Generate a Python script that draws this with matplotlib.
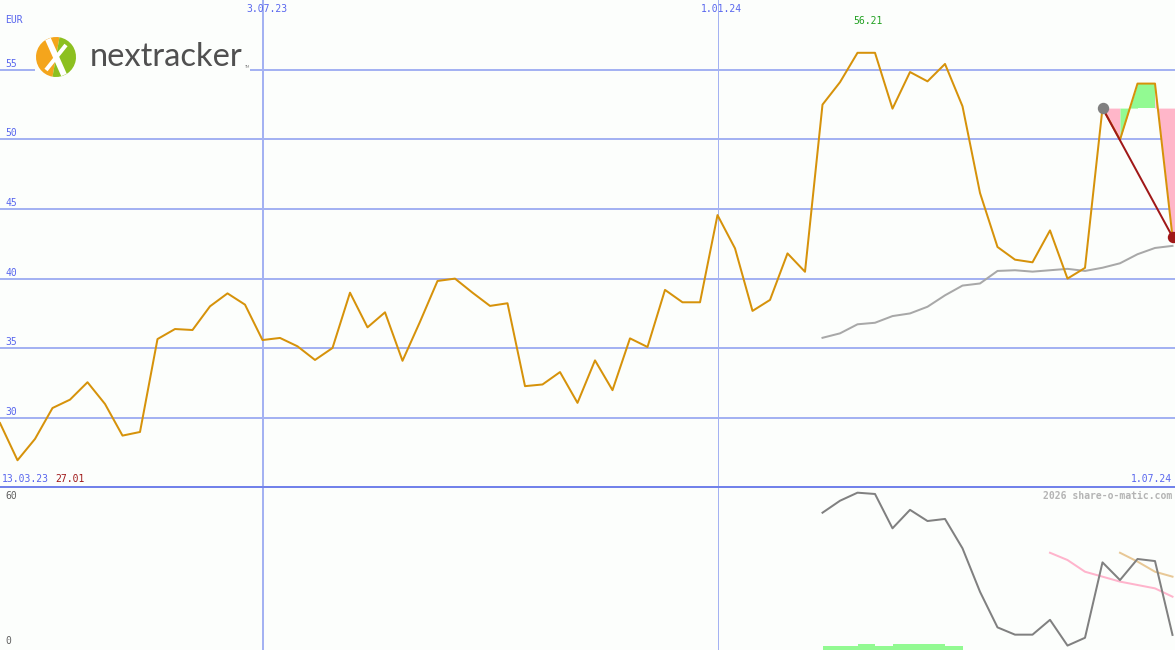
import matplotlib
matplotlib.use('Agg')
import matplotlib.pyplot as plt
from matplotlib.patches import Wedge, Rectangle

# weekly closes (EUR), 20.03.23 .. 1.07.24
price = [29.63, 26.96, 28.49, 30.71, 31.31, 32.56, 31.00, 28.73, 28.99, 35.66,
         36.38, 36.31, 38.01, 38.94, 38.13, 35.59, 35.74, 35.14, 34.16, 35.02,
         38.99, 36.50, 37.58, 34.10, 36.90, 39.83, 40.00, 38.99, 38.04, 38.23,
         32.28, 32.40, 33.29, 31.08, 34.13, 31.99, 35.71, 35.09, 39.19, 38.30,
         38.30, 44.56, 42.17, 37.68, 38.47, 41.81, 40.49, 52.49, 54.10, 56.21,
         56.21, 52.20, 54.83, 54.16, 55.41, 52.37, 46.15, 42.27, 41.36, 41.17,
         43.46, 40.00, 40.77, 52.24, 49.97, 54.00, 54.00, 43.00]

# moving average, starts at week 47
ma_start = 47
ma = [35.75, 36.07, 36.72, 36.83, 37.31, 37.50, 37.98, 38.80, 39.50, 39.65,
      40.55, 40.60, 40.50, 40.60, 40.70, 40.55, 40.78, 41.10, 41.75, 42.20, 42.35]

# lower panel indicator
osc = [52.4, 57.0, 60.1, 59.6, 46.4, 53.5, 49.2, 50.0, 38.7, 22.0,
       8.3, 5.5, 5.5, 11.2, 1.3, 4.3, 33.3, 26.5, 34.6, 33.8, 5.4]
pink_start = 60
pink_line = [37.0, 34.2, 29.7, 27.8, 25.9, 24.6, 23.3, 20.1]
tan_start = 64
tan_line = [37.0, 33.6, 29.7, 27.8]
bars_start = 47
bar_vals = [1, 1, 2, 1, 2, 2, 2, 1]

ref_idx = 63  # start of the trend arrow
y_ticks = [30, 35, 40, 45, 50, 55]
x_tick_idx = [15, 41]
x_tick_labels = ['3.07.23', '1.01.24']
first_label = '13.03.23'
last_label = '1.07.24'
low_label = '27.01'
high_label = '56.21'

W, H = 1175, 650
bg = '#fcfefc'
grid_c = '#a4b2f2'
blue_txt = '#5866ee'
px = 0.72  # one pixel in points at dpi 100

fig = plt.figure(figsize=(W / 100, H / 100), dpi=100, facecolor=bg)
mono = 'DejaVu Sans Mono'
fs = 7

def fy(y):
    return 1 - y / H

xmax = W / 17.5

# main price panel
ax = fig.add_axes([0, fy(487), 1, 487 / H], facecolor=bg)
ax.set_xlim(0, xmax)
ax.set_ylim(25.04, 60.0)
ax.axis('off')
for v in y_ticks:
    ax.axhline(v, color=grid_c, lw=2 * px, zorder=1)
for i, xi in enumerate(x_tick_idx):
    ax.axvline(xi, color=grid_c, lw=(2 if i == 0 else 1) * px, zorder=1)

x = list(range(len(price)))
ref = price[ref_idx]
for i in range(ref_idx, len(price) - 1):
    col = '#ffb6c9' if price[i + 1] < price[i] else '#92fa92'
    x1 = xmax if i + 1 == len(price) - 1 else i + 1
    ax.fill_between([i, i + 1, x1], [price[i], price[i + 1], price[i + 1]], ref,
                    color=col, lw=0, zorder=2)

ax.plot(range(ma_start, ma_start + len(ma)), ma, color='#a8a8a8', lw=2 * px, zorder=3)
ax.plot(x, price, color='#d6920a', lw=2 * px, zorder=4)
ax.plot([ref_idx, len(price) - 1], [ref, price[-1]], color='#a01818', lw=2 * px, zorder=5)
ax.plot(ref_idx, ref, 'o', color='#808080', ms=10 * px, zorder=6)
ax.plot(len(price) - 1, price[-1], 'o', color='#a01818', ms=10 * px, zorder=6)

# lower indicator panel
ax2 = fig.add_axes([0, 0, 1, 162 / H], facecolor=bg)
ax2.set_xlim(0, xmax)
ax2.set_ylim(-0.4, 61.9)
ax2.axis('off')
for i, xi in enumerate(x_tick_idx):
    ax2.axvline(xi, color=grid_c, lw=(2 if i == 0 else 1) * px, zorder=1)
ax2.bar(range(bars_start, bars_start + len(bar_vals)), [b + 0.4 for b in bar_vals],
        bottom=-0.4, width=1, align='edge', color='#92fa92', lw=0, zorder=2)
ax2.plot(range(pink_start, pink_start + len(pink_line)), pink_line, color='#ffb4cc', lw=2 * px, zorder=3)
ax2.plot(range(tan_start, tan_start + len(tan_line)), tan_line, color='#e8c896', lw=2 * px, zorder=3)
ax2.plot(range(ma_start, ma_start + len(osc)), osc, color='#808080', lw=2 * px, zorder=4)

# separator
fig.add_artist(plt.Line2D([0, 1], [fy(487), fy(487)], color='#7282ea', lw=2 * px))

# texts
fig.text(5 / W, fy(20), 'EUR', color=blue_txt, fontsize=fs, family=mono, va='center')
for v in y_ticks:
    ypix = (60.0 - v) * 487 / (60.0 - 25.04) - 6
    fig.text(5 / W, fy(ypix), str(v), color=blue_txt, fontsize=fs, family=mono, va='center')
for xi, lab in zip(x_tick_idx, x_tick_labels):
    fig.text((xi * 17.5 + 4) / W, fy(9), lab, color=blue_txt, fontsize=fs, family=mono,
             va='center', ha='center')
hi = price.index(max(price))
fig.text((hi * 17.5 + 10) / W, fy(21), high_label, color='#20a020', fontsize=fs, family=mono,
         va='center', ha='center')
fig.text(2 / W, fy(479), first_label, color=blue_txt, fontsize=fs, family=mono, va='center')
fig.text(55 / W, fy(479), low_label, color='#a01818', fontsize=fs, family=mono, va='center')
fig.text(1172 / W, fy(479), last_label, color=blue_txt, fontsize=fs, family=mono, va='center', ha='right')
fig.text(1172 / W, fy(496), '2026 share-o-matic.com', color='#b4b4b4', fontsize=fs, family=mono,
         va='center', ha='right', fontweight='bold')
fig.text(5 / W, fy(496), '60', color='#606060', fontsize=fs, family=mono, va='center')
fig.text(5 / W, fy(641), '0', color='#606060', fontsize=fs, family=mono, va='center')

# logo
lax = fig.add_axes([0, 0, 1, 1], facecolor='none')
lax.set_xlim(0, W)
lax.set_ylim(H, 0)
lax.axis('off')
lax.add_patch(Rectangle((35, 35), 215, 46, color=bg, lw=0))
lax.add_patch(Wedge((56, 57), 20, 100, 280, color='#f4a51c', lw=0))
lax.add_patch(Wedge((56, 57), 20, 280, 460, color='#8cc020', lw=0))
lax.plot([48, 64], [39, 75], color='white', lw=6 * px, solid_capstyle='butt')
lax.plot([66, 46], [45, 70], color='white', lw=4 * px, solid_capstyle='butt')
lax.text(90, 57, 'nextracker', color='#505050', fontsize=23.5, family='Lato',
         fontweight='normal', va='center', ha='left')
lax.text(244.5, 68.5, 'TM', color='#808080', fontsize=2.5, family='Lato')

fig.savefig('out.png', dpi=100, facecolor=bg)
